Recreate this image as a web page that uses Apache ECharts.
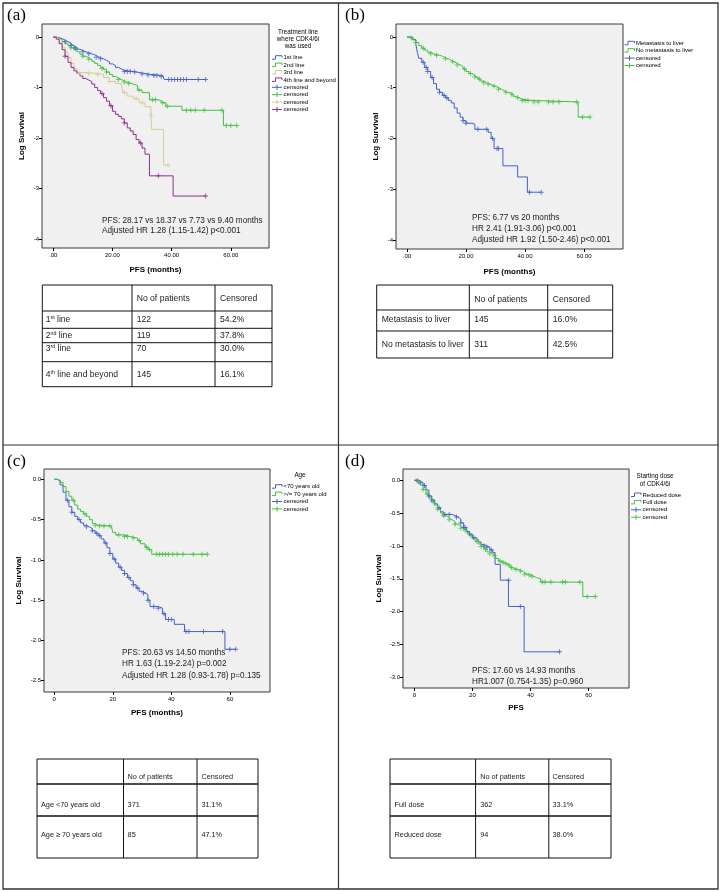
<!DOCTYPE html>
<html>
<head>
<meta charset="utf-8">
<title>PFS log survival by subgroup</title>
<script src="https://cdn.jsdelivr.net/npm/echarts@6/dist/echarts.min.js"></script>
<style>
  html, body { margin: 0; padding: 0; background: #fff; }
  #chart { width: 721px; height: 892px; }
</style>
</head>
<body>
<div id="chart"></div>
<script>
// ---- tick labels ----
const xTicks = [0, 20, 40, 60];
const yTicksAB = [0, -1, -2, -3, -4];
const yTicksC = [0, -0.5, -1, -1.5, -2, -2.5];
const yTicksD = [0, -0.5, -1, -1.5, -2, -2.5, -3];

// ---- (a) treatment line: step curves [months, log survival] ----
const aLine1 = [[0,0],[1,-0.01],[2,-0.03],[3,-0.06],[4,-0.09],[5,-0.12],[6,-0.16],[7,-0.2],[8,-0.24],[9,-0.27],[10,-0.29],[11,-0.31],[12,-0.33],[13,-0.35],[14,-0.38],[15,-0.41],[16,-0.43],[17,-0.46],[18,-0.49],[19,-0.53],[20,-0.56],[21,-0.6],[22,-0.63],[23,-0.66],[24,-0.68],[27,-0.69],[28,-0.7],[29,-0.72],[31,-0.74],[33,-0.76],[37,-0.78],[37.5,-0.84],[51.5,-0.84]];
const aLine2 = [[0,0],[1,-0.02],[2,-0.05],[3,-0.09],[4,-0.13],[5,-0.17],[6,-0.21],[7,-0.25],[8,-0.29],[9,-0.34],[10,-0.38],[11,-0.41],[12,-0.44],[13,-0.48],[14,-0.52],[15,-0.56],[16,-0.6],[17,-0.64],[18,-0.69],[19,-0.74],[20,-0.78],[21,-0.81],[22,-0.84],[23,-0.87],[24,-0.89],[25,-0.91],[26,-0.93],[27,-0.96],[28.5,-1.05],[30,-1.1],[32.5,-1.24],[35,-1.26],[36.5,-1.3],[38,-1.37],[43.5,-1.45],[57.5,-1.75],[62,-1.75]];
const aLine3 = [[0,0],[1,-0.03],[2,-0.1],[3,-0.2],[4,-0.3],[5,-0.4],[6,-0.52],[7,-0.63],[8,-0.7],[10,-0.72],[15,-0.74],[17,-0.8],[19,-0.88],[21,-0.92],[23,-0.95],[23.5,-1.1],[25,-1.17],[27,-1.22],[29,-1.3],[31,-1.38],[33,-1.55],[33.3,-1.83],[37.3,-2.54],[38.8,-2.54]];
const aLine4 = [[0,0],[1,-0.04],[2,-0.13],[3,-0.25],[4,-0.38],[5,-0.5],[6,-0.6],[7,-0.67],[8,-0.72],[9,-0.77],[10,-0.82],[11,-0.85],[12,-0.88],[13,-0.93],[14,-1.0],[15,-1.06],[16,-1.12],[17,-1.2],[18,-1.27],[19,-1.36],[20,-1.47],[21,-1.53],[22,-1.57],[23,-1.62],[24,-1.7],[25,-1.8],[26,-1.86],[27,-1.93],[28,-2.03],[29,-2.1],[30,-2.2],[31,-2.32],[32.5,-2.75],[40.5,-3.15],[51.5,-3.15]];
const aCens1 = [[4,-0.09],[6,-0.16],[7.5,-0.22],[10,-0.29],[12,-0.33],[14.5,-0.4],[16,-0.43],[24,-0.68],[25,-0.68],[26,-0.68],[27.5,-0.69],[30,-0.73],[32,-0.75],[34,-0.76],[35,-0.76],[36.5,-0.78],[39,-0.84],[40,-0.84],[41,-0.84],[42,-0.84],[43,-0.84],[44,-0.84],[45,-0.84],[49,-0.84],[51.5,-0.84]];
const aCens2 = [[6,-0.21],[10,-0.38],[12,-0.44],[16.5,-0.62],[18,-0.69],[22,-0.84],[24,-0.89],[25.5,-0.92],[29,-1.05],[33.5,-1.24],[34.5,-1.24],[37,-1.3],[38.5,-1.37],[45,-1.45],[46.5,-1.45],[48,-1.45],[51,-1.45],[57,-1.45],[58.5,-1.75],[60,-1.75],[62,-1.75]];
const aCens3 = [[9,-0.72],[12,-0.72],[15,-0.74],[19,-0.88],[24,-1.1],[28,-1.22],[30,-1.3],[33,-1.55],[38.8,-2.54]];
const aCens4 = [[4,-0.38],[16.5,-1.12],[19.5,-1.36],[24,-1.7],[29.5,-2.1],[35.5,-2.75],[51.5,-3.15]];

// ---- (b) metastasis to liver ----
const bLiver = [[0,0],[1,-0.01],[2,-0.05],[3,-0.15],[3.5,-0.3],[4,-0.42],[5,-0.5],[6,-0.6],[7,-0.68],[8,-0.8],[9,-0.92],[10,-1.03],[11,-1.09],[12,-1.15],[13,-1.2],[14,-1.25],[15,-1.3],[16,-1.4],[17,-1.5],[18,-1.58],[19,-1.65],[20,-1.7],[22,-1.72],[23,-1.82],[27.5,-1.88],[28.5,-2.0],[29.5,-2.2],[32.5,-2.54],[37.5,-2.76],[40.8,-3.06],[45.5,-3.06]];
const bNoLiver = [[0,0],[1,-0.02],[2,-0.06],[3,-0.11],[4,-0.17],[5,-0.22],[6,-0.26],[7,-0.3],[8,-0.33],[9,-0.35],[10,-0.36],[11,-0.38],[12,-0.41],[13,-0.43],[14,-0.46],[15,-0.49],[16,-0.52],[17,-0.55],[18,-0.58],[19,-0.63],[20,-0.68],[21,-0.72],[22,-0.75],[23,-0.79],[24,-0.83],[25,-0.87],[26,-0.9],[27,-0.93],[28,-0.95],[29,-0.97],[30,-1.0],[31,-1.03],[32,-1.06],[33,-1.09],[34,-1.1],[35,-1.13],[36,-1.17],[37,-1.2],[38,-1.23],[39,-1.25],[42,-1.28],[58,-1.58],[62,-1.58]];
const bCensLiver = [[5.5,-0.5],[6.5,-0.6],[7,-0.68],[8.5,-0.8],[11,-1.09],[12.5,-1.15],[13.5,-1.2],[19,-1.65],[20,-1.7],[24,-1.82],[27,-1.82],[29,-2.0],[30.5,-2.2],[31,-2.2],[41.5,-3.06],[45.5,-3.06]];
const bCensNoLiver = [[1.5,-0.02],[3,-0.11],[5.5,-0.22],[8,-0.33],[10,-0.36],[13,-0.43],[15.5,-0.49],[17,-0.55],[19.5,-0.63],[21.5,-0.72],[23,-0.79],[24.5,-0.83],[26,-0.9],[27.5,-0.93],[29.5,-0.97],[31,-1.03],[33.5,-1.09],[35.5,-1.13],[37.5,-1.2],[39,-1.25],[40,-1.25],[41,-1.25],[43,-1.28],[44.5,-1.28],[48,-1.28],[49.5,-1.28],[51.5,-1.28],[57.5,-1.28],[59.5,-1.58],[62,-1.58]];

// ---- (c) age ----
const cUnder70 = [[0,0],[1,-0.02],[2,-0.07],[3,-0.16],[4,-0.26],[5,-0.34],[6,-0.41],[7,-0.46],[8,-0.5],[9,-0.54],[10,-0.57],[11,-0.59],[12,-0.61],[13,-0.64],[14,-0.67],[15,-0.7],[16,-0.74],[17,-0.79],[18,-0.85],[19,-0.92],[20,-0.99],[21,-1.04],[22,-1.09],[23,-1.13],[24,-1.17],[25,-1.22],[26,-1.26],[27,-1.31],[28,-1.35],[29,-1.39],[30,-1.41],[31,-1.43],[32,-1.5],[32.7,-1.58],[35.5,-1.6],[37,-1.67],[38,-1.74],[41,-1.8],[44.5,-1.89],[58.3,-2.11],[62,-2.11]];
const cOver70 = [[0,0],[1,-0.01],[2,-0.04],[3,-0.09],[4,-0.15],[5,-0.21],[6,-0.26],[7,-0.32],[8,-0.37],[9,-0.4],[10,-0.43],[11,-0.46],[12,-0.5],[13,-0.55],[14,-0.57],[15,-0.58],[19.5,-0.6],[20,-0.66],[21,-0.69],[23.5,-0.71],[26,-0.73],[28.5,-0.76],[29.5,-0.8],[31,-0.84],[32,-0.87],[33.3,-0.93],[52.3,-0.93]];
const cCensUnder70 = [[4.5,-0.26],[6,-0.41],[8.5,-0.5],[11,-0.59],[13,-0.64],[14.5,-0.67],[15.5,-0.7],[17.5,-0.79],[19,-0.92],[20.5,-0.99],[22.5,-1.09],[24,-1.17],[25.5,-1.22],[27,-1.31],[28.5,-1.35],[30.5,-1.41],[32,-1.5],[34,-1.58],[35.5,-1.6],[37.5,-1.67],[39,-1.74],[40,-1.74],[45,-1.89],[46,-1.89],[51,-1.89],[57.5,-1.89],[60,-2.11],[62,-2.11]];
const cCensOver70 = [[6.5,-0.26],[10.5,-0.43],[14,-0.57],[15.5,-0.58],[17,-0.58],[19,-0.58],[22,-0.69],[24,-0.71],[25,-0.71],[27,-0.73],[29,-0.76],[31.5,-0.84],[32.5,-0.87],[35,-0.93],[36,-0.93],[37,-0.93],[38,-0.93],[39,-0.93],[40.5,-0.93],[42,-0.93],[44,-0.93],[47.5,-0.93],[50.5,-0.93],[52.3,-0.93]];

// ---- (d) starting dose ----
const dReduced = [[0,0],[1,-0.01],[2,-0.04],[3,-0.08],[4,-0.15],[5,-0.24],[6,-0.3],[7,-0.36],[8,-0.42],[9,-0.48],[10,-0.52],[13,-0.54],[14,-0.56],[15,-0.59],[16,-0.65],[17,-0.72],[18,-0.78],[19,-0.82],[20,-0.87],[21,-0.9],[22,-0.94],[23,-0.98],[24,-1.0],[25,-1.02],[26,-1.06],[27,-1.1],[27.8,-1.28],[29.6,-1.52],[32.4,-1.92],[37.8,-2.61],[50,-2.61]];
const dFull = [[0,0],[1,-0.02],[2,-0.07],[3,-0.14],[4,-0.21],[5,-0.27],[6,-0.33],[7,-0.38],[8,-0.44],[9,-0.5],[10,-0.54],[11,-0.57],[12,-0.6],[13,-0.63],[14,-0.67],[15,-0.7],[16,-0.73],[17,-0.76],[18,-0.8],[19,-0.84],[20,-0.89],[21,-0.93],[22,-0.97],[23,-1.01],[24,-1.05],[25,-1.09],[26,-1.12],[27,-1.15],[28,-1.19],[29,-1.23],[30,-1.25],[31,-1.27],[32,-1.29],[33,-1.33],[34,-1.35],[35,-1.36],[36,-1.38],[37,-1.41],[38,-1.43],[39,-1.44],[40,-1.46],[41,-1.48],[42,-1.5],[43.5,-1.55],[58,-1.77],[62.3,-1.77]];
const dCensReduced = [[1,-0.01],[2,-0.04],[3.5,-0.08],[5,-0.24],[6,-0.3],[8.5,-0.42],[10.5,-0.52],[12,-0.52],[14.5,-0.56],[16,-0.65],[17,-0.72],[17.5,-0.72],[19,-0.82],[20.5,-0.87],[24,-1.0],[25,-1.02],[26.5,-1.06],[32.5,-1.52],[36.5,-1.92],[50,-2.61]];
const dCensFull = [[1.5,-0.02],[3,-0.14],[4.5,-0.21],[6.5,-0.33],[8,-0.44],[10,-0.54],[12,-0.6],[14,-0.67],[16,-0.73],[17.5,-0.76],[19.5,-0.84],[21.5,-0.93],[23,-1.01],[24.5,-1.05],[26,-1.12],[27.5,-1.15],[29.5,-1.23],[30.5,-1.25],[31.5,-1.27],[32.5,-1.29],[33.5,-1.33],[35,-1.36],[36.5,-1.38],[38,-1.43],[39.5,-1.44],[40.5,-1.46],[44,-1.55],[45,-1.55],[47,-1.55],[51,-1.55],[52,-1.55],[57,-1.55],[59.5,-1.77],[62.3,-1.77]];

// ---- texts ----
const legendTitleA = ['Treatment line', 'where CDK4/6i', 'was used'];
const legendA = ['1st line', '2nd line', '3rd line', '4th line and beyond', 'censored', 'censored', 'censored', 'censored'];
const legendB = ['Metastasis to liver', 'No metastasis to liver', 'censored', 'censored'];
const legendTitleC = ['Age'];
const legendC = ['<70 years old', '>/= 70 years old', 'censored', 'censored'];
const legendTitleD = ['Starting dose', 'of CDK4/6i'];
const legendD = ['Reduced dose', 'Full dose', 'censored', 'censored'];

const noteA = ['PFS: 28.17 vs 18.37 vs 7.73 vs 9.40 months', 'Adjusted HR 1.28 (1.15-1.42) p<0.001'];
const noteB = ['PFS: 6.77 vs 20 months', 'HR 2.41 (1.91-3.06) p<0.001', 'Adjusted HR 1.92 (1.50-2.46) p<0.001'];
const noteC = ['PFS: 20.63 vs 14.50 months', 'HR 1.63 (1.19-2.24) p=0.002', 'Adjusted HR 1.28 (0.93-1.78) p=0.135'];
const noteD = ['PFS: 17.60 vs 14.93 months', 'HR1.007 (0.754-1.35) p=0.960'];

const tableHead = ['', 'No of patients', 'Censored'];
const tableA = [['1{s|st} line', '122', '54.2%'], ['2{s|nd} line', '119', '37.8%'], ['3{s|rd} line', '70', '30.0%'], ['4{s|th} line and beyond', '145', '16.1%']];
const tableB = [['Metastasis to liver', '145', '16.0%'], ['No metastasis to liver', '311', '42.5%']];
const tableC = [['Age <70 years old', '371', '31.1%'], ['Age \u2265 70 years old', '85', '47.1%']];
const tableD = [['Full dose', '362', '33.1%'], ['Reduced dose', '94', '38.0%']];

// ---- styles ----
const BLUE = '#4260c6', GREEN = '#41c141', TAN = '#d8cb96', PURPLE = '#8c2f8e';
const FONT = 'Liberation Sans';
const PLUS = 'path://M2,0h1v2h2v1h-2v2h-1v-2h-2v-1h2z';

const chart = echarts.init(document.getElementById('chart'));

function xAxis(i, min, max, fmt, name, gap) {
  return {
    gridIndex: i, type: 'value', min, max, position: 'bottom',
    axisLine: { show: false, onZero: false }, splitLine: { show: false },
    axisTick: { customValues: xTicks, length: 3, lineStyle: { color: '#000' } },
    axisLabel: { customValues: xTicks, formatter: fmt, fontSize: 6, fontFamily: FONT, color: '#000', margin: 4 },
    name, nameLocation: 'middle', nameGap: gap,
    nameTextStyle: { fontSize: 8, fontWeight: 'bold', fontFamily: FONT, color: '#000' }
  };
}
function yAxis(i, min, max, ticks, fmt, gap) {
  return {
    gridIndex: i, type: 'value', min, max, position: 'left',
    axisLine: { show: false, onZero: false }, splitLine: { show: false },
    axisTick: { customValues: ticks, length: 3, lineStyle: { color: '#000' } },
    axisLabel: { customValues: ticks, formatter: fmt, fontSize: 6, fontFamily: FONT, color: '#000', margin: 3 },
    name: 'Log Survival', nameLocation: 'middle', nameGap: gap,
    nameTextStyle: { fontSize: 8, fontWeight: 'bold', fontFamily: FONT, color: '#000' }
  };
}
function curve(i, data, color) {
  return { type: 'line', step: 'end', xAxisIndex: i, yAxisIndex: i, data, symbol: 'none',
    lineStyle: { color, width: 1 }, silent: true, z: 2 };
}
function cens(i, data, color) {
  return { type: 'scatter', xAxisIndex: i, yAxisIndex: i, data, symbol: PLUS, symbolSize: 5,
    itemStyle: { color }, silent: true, z: 3 };
}

const fmtDec2 = v => (v === 0 ? '.00' : v.toFixed(2));
const fmtDec1 = v => v.toFixed(1);
const fmtInt = v => String(v);

// ---- graphic helpers ----
const gfx = [];
function txt(x, y, text, size, extra) {
  gfx.push({ type: 'text', x, y, silent: true,
    style: Object.assign({ text, fontSize: size, fontFamily: FONT, fill: '#000',
      textAlign: 'left', textVerticalAlign: 'middle' }, extra || {}) });
}
function ln(x1, y1, x2, y2, w, c) {
  gfx.push({ type: 'line', silent: true, shape: { x1, y1, x2, y2 },
    style: { stroke: c || '#000', lineWidth: w || 1 } });
}
function legend(x0, y0, titleX, titleY, title, labels, colors) {
  title.forEach((t, k) => txt(titleX, titleY + k * 7.2, t, 6.3, { textAlign: 'center' }));
  labels.forEach((lab, k) => {
    const y = y0 + k * 7.4;
    const c = colors[k];
    if (lab === 'censored') {
      gfx.push({ type: 'polyline', silent: true, shape: { points: [[x0, y], [x0 + 10, y]] }, style: { stroke: c, lineWidth: 1, fill: null } });
      gfx.push({ type: 'line', silent: true, shape: { x1: x0 + 5, y1: y - 2.5, x2: x0 + 5, y2: y + 2.5 }, style: { stroke: c, lineWidth: 1 } });
    } else {
      gfx.push({ type: 'polyline', silent: true,
        shape: { points: [[x0, y + 1.5], [x0 + 3.5, y + 1.5], [x0 + 3.5, y - 2], [x0 + 10, y - 2], [x0 + 10, y]] },
        style: { stroke: c, lineWidth: 1, fill: null } });
    }
    txt(x0 + 11.5, y, lab, 6);
  });
}
function note(x, y0, step, lines) {
  lines.forEach((t, k) => txt(x, y0 + k * step, t, 8.2, { fill: '#222' }));
}
function table(xs, ys, textX, textY, rows, size, thick) {
  ys.forEach((y, k) => ln(xs[0], y, xs[xs.length - 1], y, thick && (k === 1 || k === 2) ? 1.6 : 1, '#111'));
  xs.forEach(x => ln(x, ys[0], x, ys[ys.length - 1], 1, '#111'));
  [tableHead].concat(rows).forEach((row, r) => {
    row.forEach((cell, c) => {
      if (!cell) return;
      txt(textX[c], textY[r], cell, size, {
        fill: '#222',
        rich: { s: { fontSize: size * 0.62, fontFamily: FONT, fill: '#222', verticalAlign: 'top' } }
      });
    });
  });
}

// frame and dividers
gfx.push({ type: 'rect', silent: true, shape: { x: 3, y: 3, width: 715, height: 886 },
  style: { fill: null, stroke: '#333', lineWidth: 1.3 } });
ln(338.5, 3, 338.5, 889, 1.2, '#333');
ln(3, 445, 718, 445, 1.2, '#333');

// panel letters
const serif = { fontFamily: 'Liberation Serif' };
txt(7, 16, '(a)', 17, serif);
txt(345, 16, '(b)', 17, serif);
txt(7, 462, '(c)', 17, serif);
txt(345, 462, '(d)', 17, serif);

legend(272, 57.7, 298, 32.3, legendTitleA, legendA, [BLUE, GREEN, TAN, PURPLE, BLUE, GREEN, TAN, PURPLE]);
legend(624.5, 43.3, 0, 0, [], legendB, [BLUE, GREEN, BLUE, GREEN]);
legend(272, 486.7, 300, 475.7, legendTitleC, legendC, [BLUE, GREEN, BLUE, GREEN]);
legend(631, 495, 655, 476.7, legendTitleD, legendD, [BLUE, GREEN, BLUE, GREEN]);

note(102, 220.3, 10.7, noteA);
note(472, 218, 10.7, noteB);
note(122, 652.3, 11.5, noteC);
note(472, 671, 11.2, noteD);

table([42.3, 132, 215, 272], [285, 311, 328.3, 342.7, 361.7, 386.7],
  [45.7, 136.7, 220], [299, 320, 335.7, 348.6, 375], tableA, 8.6, false);
table([376.7, 469.3, 547.7, 612.7], [285, 310, 331, 358],
  [381.7, 474.3, 552.7], [299.7, 319.5, 345], tableB, 8.6, false);
table([37, 123.5, 197, 258], [759, 784, 816, 858],
  [41, 127.6, 201.4], [777, 805, 835], tableC, 7.3, true);
table([390, 475.6, 548.8, 611], [759, 784, 816, 858],
  [394.6, 480.2, 552.5], [777, 805, 835], tableD, 7.3, true);

const gridStyle = { show: true, backgroundColor: '#f0f0f0', borderColor: '#3a3a3a', borderWidth: 1 };

chart.setOption({
  animation: false,
  grid: [
    Object.assign({ left: 42, top: 24, width: 227, height: 224 }, gridStyle),
    Object.assign({ left: 396, top: 24, width: 227, height: 225 }, gridStyle),
    Object.assign({ left: 44, top: 469, width: 226, height: 223 }, gridStyle),
    Object.assign({ left: 403, top: 469, width: 226, height: 219 }, gridStyle)
  ],
  xAxis: [
    xAxis(0, -3.8, 72.9, fmtDec2, 'PFS (months)', 18),
    xAxis(1, -3.73, 73.2, fmtDec2, 'PFS (months)', 19),
    xAxis(2, -3.5, 73.7, fmtInt, 'PFS (months)', 17),
    xAxis(3, -3.9, 73.9, fmtInt, 'PFS', 16)
  ],
  yAxis: [
    yAxis(0, -4.18, 0.26, yTicksAB, fmtInt, 16),
    yAxis(1, -4.18, 0.256, yTicksAB, fmtInt, 16),
    yAxis(2, -2.64, 0.128, yTicksC, fmtDec1, 21),
    yAxis(3, -3.16, 0.17, yTicksD, fmtDec1, 20)
  ],
  series: [
    curve(0, aLine1, BLUE), curve(0, aLine2, GREEN), curve(0, aLine3, TAN), curve(0, aLine4, PURPLE),
    cens(0, aCens1, BLUE), cens(0, aCens2, GREEN), cens(0, aCens3, TAN), cens(0, aCens4, PURPLE),
    curve(1, bLiver, BLUE), curve(1, bNoLiver, GREEN),
    cens(1, bCensLiver, BLUE), cens(1, bCensNoLiver, GREEN),
    curve(2, cUnder70, BLUE), curve(2, cOver70, GREEN),
    cens(2, cCensUnder70, BLUE), cens(2, cCensOver70, GREEN),
    curve(3, dReduced, BLUE), curve(3, dFull, GREEN),
    cens(3, dCensReduced, BLUE), cens(3, dCensFull, GREEN)
  ],
  graphic: gfx
});
</script>
</body>
</html>
